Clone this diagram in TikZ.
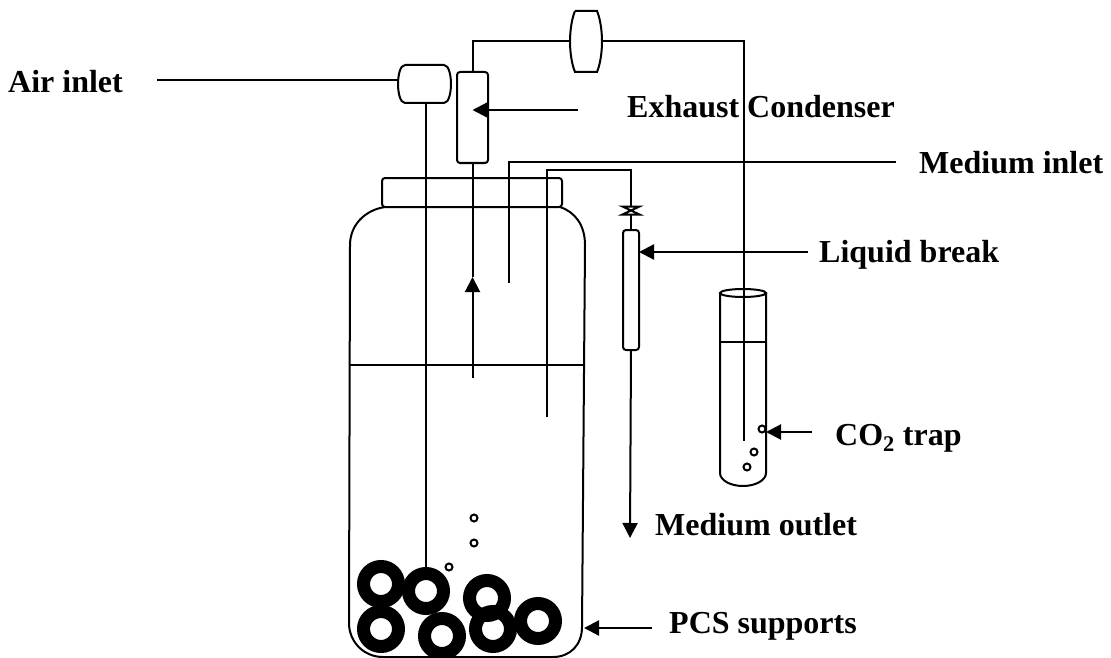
\documentclass[tikz,border=0pt]{standalone}
\usepackage{fontspec}
\usepackage{tikz}
\usetikzlibrary{arrows.meta}
\setmainfont{Liberation Serif}
\tikzset{pipe/.style = {line width = 2}}
\tikzset{flow/.style = {line width = 2.2, -{Triangle[length = 15, width = 15]}}}
\tikzset{label/.style = {anchor = base west, inner sep = 0, font = \fontsize{32}{32}\selectfont\bfseries}}
\tikzset{column/.style = {draw, pipe, rectangle, rounded corners = 3, inner sep = 0, outer sep = 0}}
\tikzset{port/.style = {rectangle, inner sep = 0, outer sep = 0}}
\tikzset{ring/.style = {draw, circle, inner sep = 0, outer sep = 0, line width = 13, minimum size = 35}}
\tikzset{bubble/.style = {draw, circle, inner sep = 0, outer sep = 0, line width = 2, minimum size = 7}}
\begin{document}
\begin{tikzpicture}[x = 1pt, y = -1pt]
      \useasboundingbox (0, 0) rectangle (1111, 658);

      \draw [pipe] (385, 207) .. controls (365, 210) and (350, 225) .. (350, 245) -- (349, 623) .. controls (349, 642) and (364, 657) .. (383, 657) -- (553, 657) .. controls (570, 657) and (582, 645) .. (582, 627) -- (585, 245) .. controls (585, 225) and (575, 212) .. (560, 207);

      \node [column, minimum width = 180, minimum height = 29] (lid) at (472, 192.5) {};
      \draw [pipe] (350, 365) -- (584, 365);

      \node [ring] (ring1) at (381, 584) {};
      \node [ring] (ring2) at (426, 591) {};
      \node [ring] (ring3) at (487, 598) {};
      \node [ring] (ring4) at (538, 621) {};
      \node [ring] (ring5) at (381, 629) {};
      \node [ring] (ring6) at (442, 636) {};
      \node [ring] (ring7) at (493, 629) {};

      \node [bubble] (bubble1) at (474, 518) {};
      \node [bubble] (bubble2) at (474, 543) {};
      \node [bubble] (bubble3) at (449, 567) {};

      \node [port, minimum width = 53, minimum height = 38] (airfilter) at (424.5, 84) {};
      \draw [pipe] (405, 65) -- (444, 65) .. controls (449, 65) and (451, 76) .. (451, 84) .. controls (451, 92) and (449, 103) .. (444, 103) -- (405, 103) .. controls (400, 103) and (398, 92) .. (398, 84) .. controls (398, 76) and (400, 65) .. (405, 65);

      \node [port, minimum width = 32, minimum height = 61] (topfilter) at (586, 41.5) {};
      \draw [pipe] (575, 11) -- (597, 11) .. controls (600, 18) and (602, 30) .. (602, 41.5) .. controls (602, 53) and (600, 65) .. (597, 72) -- (575, 72) .. controls (572, 65) and (570, 53) .. (570, 41.5) .. controls (570, 30) and (572, 18) .. (575, 11);

      \node [column, minimum width = 31, minimum height = 91] (condenser) at (472.5, 117.5) {};
      \node [column, minimum width = 16, minimum height = 120] (liquidbreak) at (631, 290) {};

      \node [port, minimum width = 17, minimum height = 8] (valve) at (631, 210.5) {};
      \draw [pipe] (valve.north west) -- (valve.north east) -- (valve.south west) -- (valve.south east) -- cycle;

      \coordinate (airin) at (157, 80);
      \draw [pipe] (airin) -- (airin -| airfilter.west);
      \draw [pipe] (ring2.north |- airfilter.south) -- (ring2.north);

      \coordinate (ventend) at (472.5, 378);
      \coordinate (ventup) at (472.5, 277);
      \draw [flow, pipe] (ventend) -- (ventup);
      \draw [pipe] (ventup) -- (condenser.south);
      \draw [pipe] (condenser.north) |- (topfilter.west);

      \node [port, minimum width = 46, minimum height = 193] (tube) at (743, 389.5) {};
      \draw [pipe] (tube.north west) -- (720, 473) arc [start angle = 180, end angle = 360, x radius = 23, y radius = -13] -- (tube.north east);
      \draw [pipe] (743, 293) ellipse [x radius = 23, y radius = 4];
      \draw [pipe] (720, 342) -- (766, 342);

      \coordinate (trapend) at (744, 441);
      \draw [pipe] (topfilter.east) -| (trapend);

      \node [bubble] (bubble4) at (762, 429) {};
      \node [bubble] (bubble5) at (754, 452) {};
      \node [bubble] (bubble6) at (747, 467) {};

      \coordinate (feedend) at (509, 283);
      \coordinate (feedin) at (896, 162);
      \draw [pipe] (feedin) -| (feedend);

      \coordinate (drawend) at (547, 417);
      \draw [pipe] (drawend) |- (631, 170) -- (valve.north);
      \draw [pipe] (valve.south) -- (liquidbreak.north);

      \coordinate (outletend) at (630, 538);
      \draw [flow, pipe] (liquidbreak.south) -- (outletend);

      \node [label] (airlabel) at (8, 93) {Air inlet};
      \node [label] (exhaustlabel) at (627, 118) {Exhaust Condenser};
      \node [label] (feedlabel) at (919, 173) {Medium inlet};
      \node [label] (breaklabel) at (819, 262) {Liquid break};
      \node [label] (traplabel) at (835, 445) {CO\textsubscript{2} trap};
      \node [label] (outletlabel) at (655, 535) {Medium outlet};
      \node [label] (supportlabel) at (669, 633) {PCS supports};

      \coordinate (exhausttail) at (578, 110);
      \coordinate (breaktail) at (808, 252);
      \coordinate (traptail) at (812, 432);
      \coordinate (supporttail) at (652, 628);
      \draw [flow] (exhausttail) -- (exhausttail -| condenser.center);
      \draw [flow] (breaktail) -- (breaktail -| liquidbreak.east);
      \draw [flow] (traptail) -- (traptail -| tube.east);
      \draw [flow] (supporttail) -- (584, 628);
    \end{tikzpicture}
\end{document}
